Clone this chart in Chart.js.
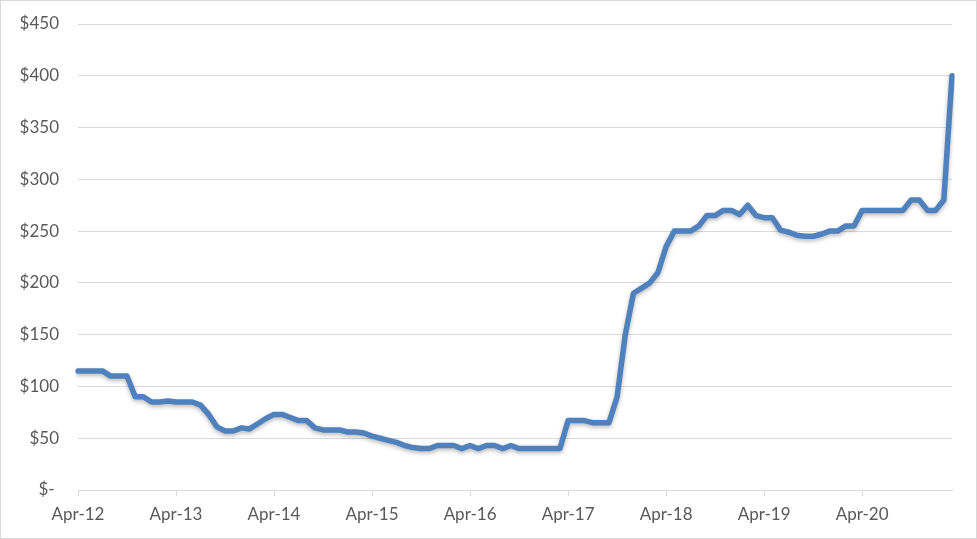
<!DOCTYPE html>
<html>
<head>
<meta charset="utf-8">
<script src="https://cdn.jsdelivr.net/npm/chart.js@4/dist/chart.umd.min.js"></script>
<style>
  html, body { margin: 0; padding: 0; background: #fff; }
  #wrap {
    position: relative;
    width: 977px;
    height: 539px;
    box-sizing: border-box;
    border: 1px solid #d9d9d9;
  }
</style>
</head>
<body>
<div id="wrap"><canvas id="lineChart"></canvas></div>
<script>
// monthly categories, Apr-12 .. Mar-21
const monthNames = ['Apr', 'May', 'Jun', 'Jul', 'Aug', 'Sep', 'Oct', 'Nov', 'Dec', 'Jan', 'Feb', 'Mar'];
const startYear = 12;
const yearCount = 9;

// only these show on the x axis
const tickLabels = ['Apr-12', 'Apr-13', 'Apr-14', 'Apr-15', 'Apr-16', 'Apr-17', 'Apr-18', 'Apr-19', 'Apr-20'];

const prices = [
  115, 115, 115, 115, 110, 110, 110, 90, 90, 85, 85, 86,
  85, 85, 85, 82, 73, 61, 57, 57, 60, 59, 64, 69,
  73, 73, 70, 67, 67, 60, 58, 58, 58, 56, 56, 55,
  52, 50, 48, 46, 43, 41, 40, 40, 43, 43, 43, 40,
  43, 40, 43, 43, 40, 43, 40, 40, 40, 40, 40, 40,
  67, 67, 67, 65, 65, 65, 90, 150, 190, 195, 200, 210,
  235, 250, 250, 250, 255, 265, 265, 270, 270, 266, 275, 265,
  263, 263, 251, 249, 246, 245, 245, 247, 250, 250, 255, 255,
  270, 270, 270, 270, 270, 270, 280, 280, 270, 270, 280, 400
];

const categories = [];
for (let y = 0; y < yearCount; y++) {
  monthNames.forEach((m, i) => {
    const yr = startYear + y + (i >= 9 ? 1 : 0);
    categories.push(m + '-' + yr);
  });
}

const textColor = '#595959';
const gridColor = '#d9d9d9';
const font = { family: 'Lato, "Open Sans", sans-serif', size: 17 };

// soft shadow under the line, like the office chart
const lineShadow = {
  id: 'lineShadow',
  beforeDatasetDraw(chart) {
    const ctx = chart.ctx;
    ctx.save();
    ctx.shadowColor = 'rgba(0,0,0,0.28)';
    ctx.shadowBlur = 4;
    ctx.shadowOffsetY = 2;
  },
  afterDatasetDraw(chart) {
    chart.ctx.restore();
  }
};

const ctx = document.getElementById('lineChart').getContext('2d');

let lineChart = new Chart(ctx, {
  type: 'line',
  data: {
    labels: categories,
    datasets: [{
      data: prices,
      borderColor: '#4f81bd',
      borderWidth: 5.5,
      borderJoinStyle: 'round',
      borderCapStyle: 'round',
      pointRadius: 0,
      tension: 0,
      fill: false
    }]
  },
  options: {
    responsive: true,
    maintainAspectRatio: false,
    animation: false,
    layout: { padding: { top: 23, right: 24, bottom: 0, left: 0 } },
    plugins: {
      legend: { display: false },
      tooltip: { enabled: false }
    },
    scales: {
      x: {
        offset: false,
        grid: {
          drawOnChartArea: false,
          drawTicks: true,
          tickLength: 6,
          color: gridColor
        },
        border: { display: true, color: gridColor, width: 1 },
        ticks: {
          autoSkip: false,
          maxRotation: 0,
          color: textColor,
          font: font,
          padding: 8,
          callback: function (val, idx) {
            const lbl = categories[idx];
            return tickLabels.includes(lbl) ? lbl : null;
          }
        },
        afterFit: function (scale) { scale.height = 48; }
      },
      y: {
        min: 0,
        max: 450,
        grid: {
          color: gridColor,
          drawTicks: false
        },
        border: { display: false },
        ticks: {
          stepSize: 50,
          color: textColor,
          font: font,
          padding: 19,
          callback: function (v) { return v === 0 ? '$- ' : '$' + v; }
        },
        afterFit: function (scale) {
          scale.width = 77;
          scale.paddingTop = 0;
          scale.paddingBottom = 0;
        }
      }
    }
  },
  plugins: [lineShadow]
});
</script>
</body>
</html>
